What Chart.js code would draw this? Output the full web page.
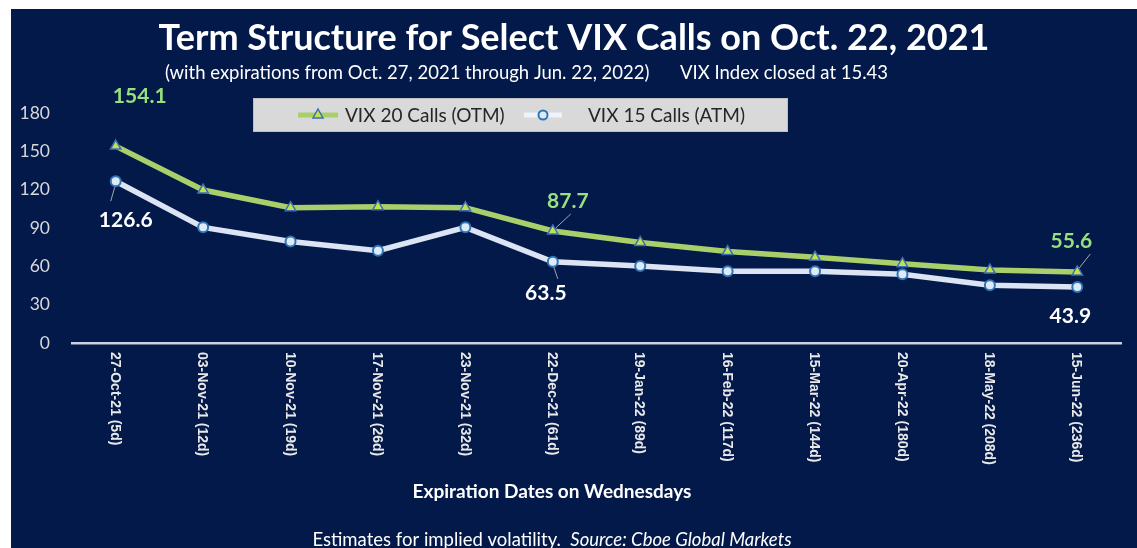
<!DOCTYPE html>
<html>
<head>
<meta charset="utf-8">
<script src="https://cdn.jsdelivr.net/npm/chart.js"></script>
<style>
  html, body { margin: 0; padding: 0; background: #ffffff; }
  #panel {
    position: absolute; left: 11px; top: 9px;
    width: 1126px; height: 539px;
    background: #02194a;
  }
  #termChart { display: block; }
</style>
</head>
<body>
<div id="panel"><canvas id="termChart" width="1126" height="539"></canvas></div>
<script>
const expiries = [
    '27-Oct-21 (5d)', '03-Nov-21 (12d)', '10-Nov-21 (19d)', '17-Nov-21 (26d)',
    '23-Nov-21 (32d)', '22-Dec-21 (61d)', '19-Jan-22 (89d)', '16-Feb-22 (117d)',
    '15-Mar-22 (144d)', '20-Apr-22 (180d)', '18-May-22 (208d)', '15-Jun-22 (236d)'
];
const otmCalls = [154.1, 119.7, 105.9, 106.7, 105.9, 87.7, 78.7, 71.6, 67.1, 62.1, 57.1, 55.6];
const atmCalls = [126.6, 90.5, 79.5, 72.2, 90.5, 63.5, 60.2, 56.1, 56.1, 53.8, 45.2, 43.9];
const yTicks = [0, 30, 60, 90, 120, 150, 180];
const labeledPoints = [0, 5, 11];

const FONT = "Lato, 'Open Sans', sans-serif";
const OTM_LINE = '#a9cf6b';
const ATM_LINE = '#dce4f4';

// where each value label sits relative to its point, plus optional leader line
const calloutStyle = {
    otm: {
        color: '#97e07f',
        spots: {
            0: { dx: 24, dy: -50 },
            5: { dx: 15, dy: -30, lead: [3, -3, 18, -17] },
            11: { dx: -6, dy: -31, lead: [2, -4, 13, -18] }
        }
    },
    atm: {
        color: '#ffffff',
        spots: {
            0: { dx: 10, dy: 39, lead: [-1, 6, -5, 20] },
            5: { dx: -7, dy: 31, lead: [1, 5, 5, 17] },
            11: { dx: -7, dy: 29 }
        }
    }
};

const decorPlugin = {
    id: 'decor',
    afterDraw(chart) {
        const ctx = chart.ctx;
        const xScale = chart.scales.x;
        const area = chart.chartArea;
        ctx.save();

        // title + subtitle
        ctx.fillStyle = '#ffffff';
        ctx.textBaseline = 'middle';
        ctx.textAlign = 'center';
        ctx.font = `bold 36px ${FONT}`;
        ctx.fillText('Term Structure for Select VIX Calls on Oct. 22, 2021', chart.width / 2, 29);
        ctx.textAlign = 'left';
        ctx.font = `18.5px ${FONT}`;
        ctx.fillText('(with expirations from Oct. 27, 2021 through Jun. 22, 2022)', 154, 64);
        ctx.fillText('VIX Index closed at 15.43', 669, 64);

        // legend box
        ctx.fillStyle = '#d9d9d9';
        ctx.fillRect(242, 89, 535, 34);
        ctx.strokeStyle = '#bfbfbf';
        ctx.lineWidth = 1;
        ctx.strokeRect(242.5, 89.5, 534, 33);

        ctx.lineWidth = 5;
        ctx.strokeStyle = OTM_LINE;
        ctx.beginPath(); ctx.moveTo(287, 106); ctx.lineTo(327, 106); ctx.stroke();
        ctx.fillStyle = '#c6e04c';
        ctx.strokeStyle = '#3b6fb3';
        ctx.lineWidth = 1.5;
        ctx.beginPath(); ctx.moveTo(307, 100); ctx.lineTo(312, 109); ctx.lineTo(302, 109); ctx.closePath();
        ctx.fill(); ctx.stroke();

        ctx.lineWidth = 5;
        ctx.strokeStyle = '#eef2fa';
        ctx.beginPath(); ctx.moveTo(513, 106); ctx.lineTo(551, 106); ctx.stroke();
        ctx.fillStyle = '#deebf7';
        ctx.strokeStyle = '#2e75b6';
        ctx.lineWidth = 2;
        ctx.beginPath(); ctx.arc(532, 106, 4.5, 0, Math.PI * 2); ctx.fill(); ctx.stroke();

        ctx.fillStyle = '#262626';
        ctx.font = `19px ${FONT}`;
        ctx.textAlign = 'left';
        ctx.fillText('VIX 20 Calls (OTM)', 334, 107);
        ctx.fillText('VIX 15 Calls (ATM)', 577, 107);

        // value callouts
        [['otm', 0], ['atm', 1]].forEach(([key, dsIndex]) => {
            const style = calloutStyle[key];
            const meta = chart.getDatasetMeta(dsIndex);
            const values = chart.data.datasets[dsIndex].data;
            labeledPoints.forEach(i => {
                const spot = style.spots[i];
                const pt = meta.data[i];
                if (spot.lead) {
                    ctx.strokeStyle = '#a6a6a6';
                    ctx.lineWidth = 1;
                    ctx.beginPath();
                    ctx.moveTo(pt.x + spot.lead[0], pt.y + spot.lead[1]);
                    ctx.lineTo(pt.x + spot.lead[2], pt.y + spot.lead[3]);
                    ctx.stroke();
                }
                ctx.fillStyle = style.color;
                ctx.font = `bold 21px ${FONT}`;
                ctx.textAlign = 'center';
                ctx.textBaseline = 'middle';
                ctx.fillText(values[i].toFixed(1), pt.x + spot.dx, pt.y + spot.dy);
            });
        });

        // rotated x labels, reading top to bottom
        ctx.fillStyle = '#e8e8e8';
        ctx.font = "bold 14px 'Liberation Sans', Arial, sans-serif";
        ctx.textAlign = 'left';
        ctx.textBaseline = 'middle';
        chart.data.labels.forEach((label, i) => {
            const x = xScale.getPixelForValue(i);
            ctx.save();
            ctx.translate(x - 1, area.bottom + 9);
            ctx.rotate(Math.PI / 2);
            ctx.fillText(label, 0, 0);
            ctx.restore();
        });

        // axis title and source note
        const cx = 541;
        ctx.fillStyle = '#ffffff';
        ctx.textAlign = 'center';
        ctx.font = `bold 19px ${FONT}`;
        ctx.fillText('Expiration Dates on Wednesdays', cx, 483);

        const partA = 'Estimates for implied volatility.  ';
        const partB = 'Source: Cboe Global Markets';
        ctx.font = `18.5px ${FONT}`;
        const wA = ctx.measureText(partA).width;
        ctx.font = `italic 18.5px ${FONT}`;
        const wB = ctx.measureText(partB).width;
        const startX = cx - (wA + wB) / 2;
        ctx.textAlign = 'left';
        ctx.font = `18.5px ${FONT}`;
        ctx.fillText(partA, startX, 531);
        ctx.font = `italic 18.5px ${FONT}`;
        ctx.fillText(partB, startX + wA, 531);

        ctx.restore();
    }
};

const ctx = document.getElementById('termChart').getContext('2d');
new Chart(ctx, {
    type: 'line',
    data: {
        labels: expiries,
        datasets: [{
            label: 'VIX 20 Calls (OTM)',
            data: otmCalls,
            borderColor: OTM_LINE,
            borderWidth: 5.5,
            pointStyle: 'triangle',
            pointRadius: 6,
            pointBackgroundColor: '#c6e04c',
            pointBorderColor: '#3b6fb3',
            pointBorderWidth: 1.5,
            tension: 0
        }, {
            label: 'VIX 15 Calls (ATM)',
            data: atmCalls,
            borderColor: ATM_LINE,
            borderWidth: 5.5,
            pointStyle: 'circle',
            pointRadius: 5,
            pointBackgroundColor: '#deebf7',
            pointBorderColor: '#2e75b6',
            pointBorderWidth: 2,
            tension: 0
        }]
    },
    options: {
        responsive: false,
        animation: false,
        layout: {
            padding: { left: 0, right: 16, top: 104, bottom: 205 }
        },
        plugins: {
            legend: { display: false },
            title: { display: false },
            tooltip: { enabled: false }
        },
        scales: {
            x: {
                offset: true,
                grid: { display: false },
                border: { display: true, color: '#c9d0e0', width: 2.5 },
                ticks: { display: false },
                afterFit(scale) { scale.height = 0; }
            },
            y: {
                min: 0,
                max: 180,
                grid: { display: false, drawTicks: false },
                border: { display: false },
                afterFit(scale) { scale.width = 61; },
                afterBuildTicks(scale) { scale.ticks = yTicks.map(v => ({ value: v })); },
                ticks: {
                    color: '#d9d9d9',
                    padding: 22,
                    font: { family: FONT, size: 17.5 }
                }
            }
        }
    },
    plugins: [decorPlugin]
});
</script>
</body>
</html>
